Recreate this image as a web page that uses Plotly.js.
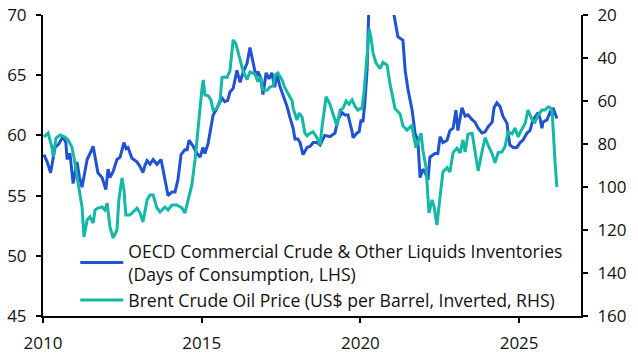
<!DOCTYPE html>
<html>
<head>
<meta charset="utf-8">
<script src="https://cdn.plot.ly/plotly-3.0.1.min.js"></script>
<style>html,body{margin:0;padding:0;background:#fff;}#chart{width:638px;height:361px;}</style>
</head>
<body>
<div id="chart"></div>
<script>
// OECD commercial inventories, days of consumption (LHS)
var oecdYears = [2010.03,2010.13,2010.24,2010.38,2010.50,2010.63,2010.72,2010.76,2010.85,2010.95,
2011.07,2011.15,2011.23,2011.39,2011.50,2011.58,2011.73,2011.86,2011.98,
2012.05,2012.11,2012.21,2012.33,2012.43,2012.55,2012.62,2012.68,2012.80,2012.96,
2013.06,2013.15,2013.21,2013.28,2013.37,2013.47,2013.59,2013.72,2013.84,2013.94,
2014.06,2014.16,2014.25,2014.35,2014.47,2014.54,2014.60,2014.73,2014.85,2014.95,
2015.04,2015.10,2015.20,2015.26,2015.36,2015.45,2015.51,2015.64,2015.73,2015.82,2015.89,2015.99,
2016.11,2016.21,2016.30,2016.43,2016.52,2016.62,2016.71,2016.77,2016.86,2016.93,
2017.03,2017.12,2017.21,2017.30,2017.37,2017.46,2017.56,2017.69,2017.78,2017.88,2017.94,
2018.03,2018.10,2018.19,2018.32,2018.42,2018.51,2018.63,2018.73,2018.88,
2019.04,2019.20,2019.29,2019.42,2019.51,2019.61,2019.73,2019.77,2019.89,2019.96,
2020.02,2020.08,2020.14,2020.21,2020.27,2020.40,2020.60,2020.85,
2021.06,2021.18,2021.28,2021.34,2021.41,2021.50,2021.63,2021.72,2021.81,2021.88,2021.97,
2022.04,2022.13,2022.19,2022.35,2022.44,2022.51,2022.60,2022.73,2022.82,2022.92,
2023.01,2023.07,2023.14,2023.20,2023.30,2023.39,2023.52,2023.61,2023.71,2023.83,2023.93,
2024.02,2024.15,2024.21,2024.30,2024.40,2024.49,2024.62,2024.65,2024.71,2024.81,2024.93,
2025.03,2025.12,2025.25,2025.34,2025.44,2025.56,2025.60,2025.66,2025.72,2025.75,2025.88,2025.97,
2026.04,2026.07,2026.16,2026.19];
var oecdDays = [58.4,57.8,56.9,59.0,59.3,59.9,59.4,58.0,58.5,56.0,
57.8,56.5,55.7,58.0,58.6,59.1,56.9,56.5,55.5,
57.2,56.5,57.0,58.0,58.2,59.4,58.9,59.0,58.1,57.8,
57.4,56.9,57.5,57.9,57.6,58.0,57.6,58.0,56.5,55.0,
55.3,55.3,56.3,58.4,58.8,58.8,59.6,59.1,58.5,58.2,
59.0,58.5,59.3,60.2,61.7,62.1,62.4,63.1,62.8,62.9,63.6,63.9,
65.4,64.4,65.2,66.0,67.3,66.0,64.9,65.3,64.8,63.4,
65.2,64.7,65.2,64.0,65.1,64.1,63.4,62.4,61.5,60.6,59.7,
59.7,59.4,58.4,59.0,59.1,59.4,59.4,59.2,60.0,
59.9,60.2,61.3,61.9,61.7,61.7,60.4,59.8,60.2,60.3,
61.3,61.1,62.7,65.4,71.0,78.0,79.0,74.0,
70.0,68.2,68.0,67.9,65.4,63.8,62.1,60.2,59.6,56.5,57.2,
56.9,56.3,58.2,58.5,58.5,59.9,59.4,59.6,60.4,60.6,
62.1,60.4,61.4,62.3,61.6,61.7,61.3,61.1,60.6,60.2,60.3,
60.7,61.1,62.3,62.7,62.4,61.6,61.0,60.2,59.2,59.0,59.0,
59.4,59.6,60.2,60.4,61.3,61.7,61.9,61.4,60.6,61.1,61.3,61.9,
61.7,62.3,61.7,61.4];

// Brent crude oil price, US$ per barrel (RHS, inverted)
var brentYears = [2010.03,2010.16,2010.28,2010.32,2010.41,2010.54,2010.69,2010.79,2010.91,
2011.01,2011.10,2011.23,2011.29,2011.39,2011.48,2011.58,2011.64,2011.73,2011.86,2011.95,
2012.02,2012.11,2012.21,2012.33,2012.39,2012.49,2012.55,2012.61,2012.74,2012.84,2012.96,
2013.06,2013.15,2013.28,2013.37,2013.47,2013.59,2013.69,2013.84,2013.94,
2014.06,2014.22,2014.38,2014.47,2014.57,2014.69,2014.79,2014.88,
2015.01,2015.05,2015.10,2015.20,2015.29,2015.36,2015.48,2015.58,2015.64,2015.73,2015.80,2015.89,2015.99,
2016.08,2016.21,2016.30,2016.43,2016.52,2016.68,2016.77,2016.84,2016.93,
2017.06,2017.15,2017.25,2017.31,2017.40,2017.53,2017.62,2017.72,2017.78,2017.85,2017.88,
2018.00,2018.07,2018.16,2018.25,2018.32,2018.41,2018.51,2018.63,2018.73,2018.79,2018.92,
2019.04,2019.14,2019.26,2019.36,2019.45,2019.55,2019.64,2019.74,2019.83,2019.92,
2020.02,2020.05,2020.11,2020.18,2020.24,2020.28,2020.33,2020.40,2020.49,2020.62,2020.71,2020.84,2020.93,
2021.09,2021.25,2021.34,2021.47,2021.56,2021.63,2021.66,2021.75,2021.85,2021.91,2021.97,
2022.07,2022.16,2022.26,2022.32,2022.41,2022.51,2022.60,2022.73,2022.82,2022.92,
2023.04,2023.14,2023.23,2023.30,2023.39,2023.52,2023.61,2023.71,2023.83,2023.93,
2024.02,2024.15,2024.24,2024.34,2024.46,2024.56,2024.65,2024.78,2024.87,2024.97,
2025.06,2025.19,2025.28,2025.41,2025.50,2025.60,2025.72,2025.82,2025.91,2025.97,
2026.04,2026.08,2026.13,2026.19];
var brentPrice = [76.7,74.9,81.4,86.0,77.2,75.8,76.7,78.1,81.4,
88.8,97.7,109.3,123.3,115.3,113.9,116.8,110.7,109.8,109.3,110.7,
107.5,118.6,123.7,120.0,106.0,95.8,101.4,113.0,113.0,111.6,109.8,
112.1,116.3,106.0,103.7,103.7,109.8,111.6,109.3,110.7,
108.4,108.4,109.8,112.1,106.0,99.0,87.4,73.0,
54.0,50.2,57.2,57.5,59.5,64.2,63.3,59.5,49.0,48.8,49.0,46.0,31.6,
33.5,41.5,46.0,50.0,46.5,47.5,51.0,48.8,54.9,
55.0,53.5,53.0,48.0,47.0,50.2,53.8,56.5,58.0,60.0,63.3,
68.8,65.6,67.4,74.9,76.2,75.0,74.4,77.0,80.4,72.1,58.0,
61.5,66.5,71.6,64.2,63.5,60.0,61.5,59.5,62.5,64.2,
63.3,63.5,56.3,44.2,31.6,26.5,30.2,37.7,42.3,45.0,42.0,43.3,51.8,
63.5,66.0,71.5,73.5,72.0,71.2,74.9,81.7,77.5,75.0,83.0,
91.0,112.1,106.0,109.0,117.7,104.6,93.0,91.0,93.0,84.0,
82.0,84.2,78.1,83.7,75.5,75.0,83.5,92.5,83.7,77.0,
80.4,84.5,88.8,84.0,83.7,81.0,74.4,75.3,72.6,76.7,
73.8,70.5,64.2,68.8,69.8,66.5,64.2,64.2,62.8,63.0,
64.5,78.0,88.0,100.0];

var yearTicks = [2010, 2015, 2020, 2025];
var leftTicks = [45, 50, 55, 60, 65, 70];
var rightTicks = [20, 40, 60, 80, 100, 120, 140, 160];

var FONT = 'Open Sans, Noto Sans, sans-serif';

var traces = [
  {x: oecdYears, y: oecdDays, type: 'scatter', mode: 'lines', yaxis: 'y',
   name: 'OECD Commercial Crude & Other Liquids Inventories<br>(Days of Consumption, LHS)',
   line: {color: '#2152D3', width: 3}},
  {x: brentYears, y: brentPrice, type: 'scatter', mode: 'lines', yaxis: 'y2',
   name: 'Brent Crude Oil Price (US$ per Barrel, Inverted, RHS)',
   line: {color: '#14B8A6', width: 3}}
];

var axisCommon = {
  showgrid: false, zeroline: false, showline: true, linecolor: '#000', linewidth: 2,
  ticks: 'outside', ticklen: 5, tickwidth: 2, tickcolor: '#000',
  tickfont: {family: FONT, size: 17, color: '#111'}
};

var layout = {
  width: 638, height: 361,
  margin: {l: 43, r: 57, t: 15, b: 45},
  paper_bgcolor: '#fff', plot_bgcolor: '#fff',
  showlegend: true,
  legend: {x: 0.06, y: 0.275, xanchor: 'left', yanchor: 'top',
           bgcolor: 'rgba(0,0,0,0)', borderwidth: 0, tracegroupgap: 0,
           font: {family: FONT, size: 17.6, color: '#111'}, itemwidth: 43},
  xaxis: Object.assign({}, axisCommon, {range: [2010, 2026.95], tickmode: 'array',
           tickvals: yearTicks, ticktext: yearTicks.map(String), ticklabelstandoff: 6}),
  yaxis: Object.assign({}, axisCommon, {range: [45, 70], tickmode: 'array',
           tickvals: leftTicks, ticklabelstandoff: 6}),
  yaxis2: Object.assign({}, axisCommon, {range: [160, 20], overlaying: 'y', side: 'right',
           tickmode: 'array', tickvals: rightTicks, ticklabelstandoff: 6})
};

Plotly.newPlot('chart', traces, layout, {staticPlot: true, displayModeBar: false});
</script>
</body>
</html>
